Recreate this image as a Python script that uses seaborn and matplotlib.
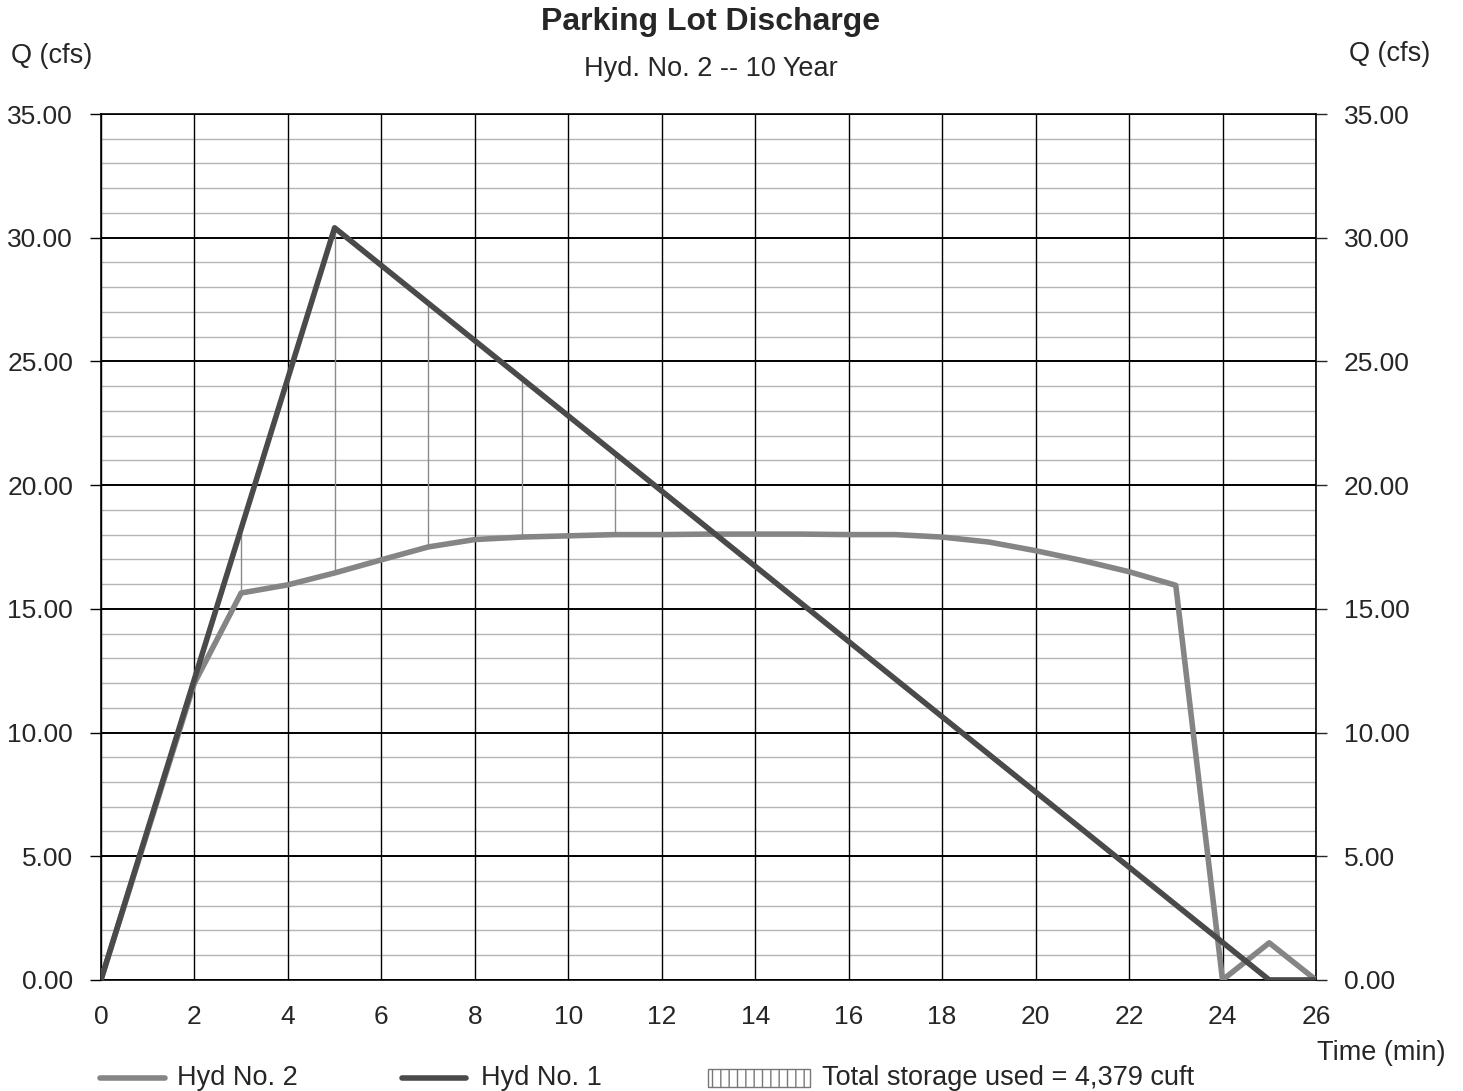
import numpy as np
import pandas as pd
import matplotlib
matplotlib.use("Agg")
import matplotlib.pyplot as plt
import matplotlib.patches as mpatches
from matplotlib.lines import Line2D
import seaborn as sns

sns.set_style("white")
plt.rcParams['font.family'] = ['Liberation Sans', 'DejaVu Sans']

time_min = [0, 1, 2, 3, 4, 5, 6, 7, 8, 9, 10, 11, 12, 13,
            14, 15, 16, 17, 18, 19, 20, 21, 22, 23, 24, 25, 26]
hyd1 = [0.00, 6.08, 12.16, 18.24, 24.32, 30.40, 28.88, 27.36, 25.84, 24.32,
        22.80, 21.28, 19.76, 18.24, 16.72, 15.20, 13.68, 12.16, 10.64, 9.12,
        7.60, 6.08, 4.56, 3.04, 1.52, 0.00, 0.00]
hyd2 = [0.00, 6.00, 12.00, 15.64, 15.97, 16.45, 16.98, 17.50, 17.80, 17.90,
        17.95, 18.00, 18.00, 18.02, 18.02, 18.02, 18.00, 18.00, 17.90, 17.70,
        17.35, 16.95, 16.50, 15.95, 0.00, 1.50, 0.00]
storage_label = "Total storage used = 4,379 cuft"

df = pd.DataFrame({"time": time_min, "Hyd No. 1": hyd1, "Hyd No. 2": hyd2})

fig = plt.figure(figsize=(14.63, 10.91), dpi=100)
ax = fig.add_axes([0.069, 0.1018, 0.8305, 0.7937])

# grid
for y in range(0, 36):
    if y % 5 == 0:
        ax.axhline(y, color="black", lw=1.4, zorder=1)
    else:
        ax.axhline(y, color="#b4b4b4", lw=1.0, zorder=1)
for x in range(0, 27, 2):
    ax.axvline(x, color="black", lw=1.0, zorder=1)

# storage hatch at odd minutes where inflow exceeds outflow
hatch_t = [t for t in time_min if t % 2 == 1 and hyd1[t] - hyd2[t] > 0.5]
ax.vlines(hatch_t, [hyd2[t] for t in hatch_t], [hyd1[t] for t in hatch_t],
          color="#8a8a8a", lw=1.0, zorder=2)

sns.lineplot(data=df, x="time", y="Hyd No. 2", ax=ax, color="#858585", lw=4, zorder=3)
sns.lineplot(data=df, x="time", y="Hyd No. 1", ax=ax, color="#4a4a4a", lw=4, zorder=4)

ax.set_xlim(0, 26)
ax.set_ylim(0, 35)
ax.set_xticks(range(0, 27, 2))
ax.set_yticks(range(0, 36, 5))
ax.set_yticklabels([f"{v:.2f}" for v in range(0, 36, 5)])
ax.set_xlabel("")
ax.set_ylabel("")
ax.tick_params(axis="both", labelsize=19, length=8, width=1, color="black")
ax.tick_params(axis="y", pad=12)
ax.tick_params(axis="x", pad=10)
for s in ax.spines.values():
    s.set_color("black")
    s.set_linewidth(1.2)

ax2 = ax.twinx()
ax2.set_ylim(0, 35)
ax2.set_yticks(range(0, 36, 5))
ax2.set_yticklabels([f"{v:.2f}" for v in range(0, 36, 5)])
ax2.tick_params(axis="y", labelsize=19, length=8, width=1, pad=12)
for s in ax2.spines.values():
    s.set_visible(False)

# titles and axis labels
fig.text(0.486, 1 - 22 / 1091, "Parking Lot Discharge", ha="center", va="center",
         fontsize=23, fontweight="bold")
fig.text(0.486, 1 - 69 / 1091, "Hyd. No. 2 -- 10 Year", ha="center", va="center", fontsize=19.5)
fig.text(52 / 1463, 1 - 56 / 1091, "Q (cfs)", ha="center", va="center", fontsize=19.5)
fig.text(1390 / 1463, 1 - 54 / 1091, "Q (cfs)", ha="center", va="center", fontsize=19.5)
fig.text(1381 / 1463, 1 - 1053 / 1091, "Time (min)", ha="center", va="center", fontsize=19.5)

# legend along the bottom
ly = 1 - 1078 / 1091
fig.add_artist(Line2D([100 / 1463, 165 / 1463], [ly, ly], color="#858585", lw=4))
fig.text(177 / 1463, ly, "Hyd No. 2", va="center", fontsize=19.5)
fig.add_artist(Line2D([402 / 1463, 466 / 1463], [ly, ly], color="#4a4a4a", lw=4))
fig.text(481 / 1463, ly, "Hyd No. 1", va="center", fontsize=19.5)
fig.add_artist(mpatches.Rectangle((708 / 1463, ly - 9 / 1091), 102 / 1463, 18 / 1091,
                                  facecolor="white", edgecolor="#777777", hatch="||", lw=1))
fig.text(822 / 1463, ly, storage_label, va="center", fontsize=19.5)

plt.savefig("out.png", dpi=100)
